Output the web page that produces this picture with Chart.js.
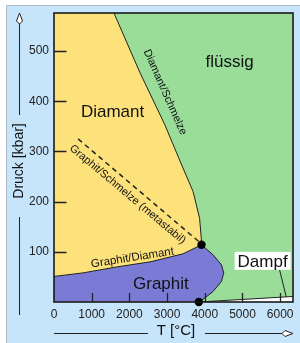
<!DOCTYPE html>
<html>
<head>
<meta charset="utf-8">
<script src="https://cdn.jsdelivr.net/npm/chart.js@4.4.1/dist/chart.umd.min.js"></script>
<style>
  html, body { margin: 0; padding: 0; background: #fff; }
  #wrap { width: 300px; height: 343px; position: relative; }
</style>
</head>
<body>
<div id="wrap"><canvas id="phase"></canvas></div>
<script>
// Phasendiagramm Kohlenstoff: T in °C, Druck in kbar
const tRange = [0, 6340];
const pRange = [0, 576];
const xTickValues = [0, 1000, 2000, 3000, 4000, 5000, 6000];
const yTickValues = [100, 200, 300, 400, 500];

// Phasengrenzen
const graphitDiamant = [
  {x: 0, y: 51}, {x: 770, y: 58}, {x: 1670, y: 70}, {x: 2550, y: 80},
  {x: 3420, y: 96}, {x: 3913, y: 114}
];
const diamantSchmelze = [
  {x: 3913, y: 114}, {x: 3907, y: 127}, {x: 3862, y: 167}, {x: 3690, y: 220},
  {x: 3365, y: 277}, {x: 2942, y: 353}, {x: 2275, y: 458}, {x: 1590, y: 576}
];
const graphitSchmelze = [
  {x: 3913, y: 114}, {x: 4220, y: 94}, {x: 4442, y: 74}, {x: 4503, y: 58},
  {x: 4442, y: 41}, {x: 4220, y: 21}, {x: 4000, y: 8}, {x: 3841, y: 0}
];
const schmelzeDampf = [{x: 3841, y: 0}, {x: 6340, y: 11}];
const metastabil = [{x: 640, y: 325}, {x: 3880, y: 118}];
const dampfPfeil = [{x: 5984, y: 64}, {x: 6161, y: 10}];
const tripelpunkte = [{x: 3913, y: 114}, {x: 3841, y: 0}];

// Flächen aus den Grenzen zusammengesetzt
const flaecheFluessig = [{x: 0, y: 0}, {x: 0, y: 576}, {x: 6340, y: 576}, {x: 6340, y: 0}];
const flaecheDiamant = graphitDiamant.concat(diamantSchmelze.slice(1), [{x: 0, y: 576}]);
const flaecheGraphit = [{x: 0, y: 0}].concat(graphitDiamant, graphitSchmelze.slice(1));
const flaecheDampf = schmelzeDampf.concat([{x: 6340, y: 0}]);

function region(pts, color, order) {
  return { data: pts, fill: 'shape', backgroundColor: color, borderColor: 'transparent',
           borderWidth: 0, pointRadius: 0, order: order };
}
function boundary(pts, dash) {
  return { data: pts, fill: false, borderColor: '#222', borderWidth: dash ? 1.5 : 1,
           borderDash: dash || [], pointRadius: 0, order: 2 };
}

const phasePlugin = {
  id: 'phase',
  beforeDraw(chart) {
    const ctx = chart.ctx;
    ctx.save();
    ctx.fillStyle = '#fff';
    ctx.fillRect(0, 0, chart.width, chart.height);
    ctx.fillStyle = '#c7e5fa';
    ctx.fillRect(7, 6, chart.width - 7, chart.height - 6);
    ctx.strokeStyle = '#b0bcc6';
    ctx.lineWidth = 1;
    ctx.beginPath();
    ctx.moveTo(6.5, chart.height); ctx.lineTo(6.5, 5.5); ctx.lineTo(chart.width, 5.5);
    ctx.stroke();
    ctx.restore();
  },
  afterDatasetsDraw(chart, args, opts) {
    const ctx = chart.ctx, a = chart.chartArea;
    const xs = chart.scales.x, ys = chart.scales.y;
    ctx.save();
    // Ticks nach innen
    ctx.strokeStyle = '#222';
    ctx.lineWidth = 1.3;
    ctx.beginPath();
    yTickValues.forEach(v => {
      const y = Math.round(ys.getPixelForValue(v)) + 0.5;
      ctx.moveTo(a.left, y); ctx.lineTo(a.left + 12.5, y);
    });
    xTickValues.forEach(v => {
      if (v === 0) return;
      const x = Math.round(xs.getPixelForValue(v)) + 0.5;
      ctx.moveTo(x, a.bottom); ctx.lineTo(x, a.bottom - 9);
    });
    ctx.stroke();
    // Rahmen
    ctx.lineWidth = 1.6;
    ctx.strokeStyle = '#1a1a1a';
    ctx.strokeRect(a.left, a.top, a.right - a.left, a.bottom - a.top);
    // Beschriftungen
    opts.labels.forEach(l => {
      const x = xs.getPixelForValue(l.t), y = ys.getPixelForValue(l.p);
      ctx.save();
      ctx.translate(x, y);
      ctx.rotate((l.angle || 0) * Math.PI / 180);
      ctx.font = l.size + 'px "Liberation Sans", Arial, sans-serif';
      if (l.box) {
        ctx.fillStyle = '#fff';
        ctx.fillRect(-l.box[0] / 2, -l.box[1] / 2, l.box[0], l.box[1]);
      }
      ctx.fillStyle = '#111';
      ctx.textAlign = 'center';
      ctx.textBaseline = 'middle';
      ctx.fillText(l.text, 0, 1);
      ctx.restore();
    });
    ctx.restore();
  },
  afterDraw(chart) {
    const ctx = chart.ctx, a = chart.chartArea;
    ctx.save();
    ctx.strokeStyle = '#222';
    ctx.fillStyle = '#111';
    ctx.lineWidth = 1;
    // y-Achsentitel mit Pfeil
    const ax = 19.5;
    ctx.beginPath();
    ctx.moveTo(ax, 22); ctx.lineTo(ax, 115);
    ctx.moveTo(ax, 217); ctx.lineTo(ax, 315);
    ctx.stroke();
    ctx.beginPath();
    ctx.moveTo(ax, 13); ctx.lineTo(ax + 3, 21); ctx.lineTo(ax, 24); ctx.lineTo(ax - 3, 21); ctx.closePath();
    ctx.fillStyle = '#fff'; ctx.fill(); ctx.stroke();
    ctx.fillStyle = '#111';
    ctx.font = '14px "Liberation Sans", Arial, sans-serif';
    ctx.textAlign = 'center';
    ctx.textBaseline = 'middle';
    ctx.save();
    ctx.translate(ax, 161);
    ctx.rotate(-Math.PI / 2);
    ctx.fillText('Druck [kbar]', 0, 0);
    ctx.restore();
    // x-Achsentitel mit Pfeil
    const ay = 333.5;
    ctx.beginPath();
    ctx.moveTo(a.left, ay); ctx.lineTo(148, ay);
    ctx.moveTo(205, ay); ctx.lineTo(283, ay);
    ctx.stroke();
    ctx.beginPath();
    ctx.moveTo(a.right, ay); ctx.lineTo(a.right - 8, ay - 3); ctx.lineTo(a.right - 11, ay);
    ctx.lineTo(a.right - 8, ay + 3); ctx.closePath();
    ctx.fillStyle = '#fff'; ctx.fill(); ctx.stroke();
    ctx.fillStyle = '#111';
    ctx.font = '15px "Liberation Sans", Arial, sans-serif';
    ctx.fillText('T [°C]', 176, 331);
    ctx.restore();
  }
};

Chart.defaults.font.family = '"Liberation Sans", Arial, sans-serif';

new Chart(document.getElementById('phase'), {
  type: 'line',
  data: {
    datasets: [
      { data: tripelpunkte, showLine: false, pointRadius: 4.2, pointBackgroundColor: '#000',
        pointBorderColor: '#000', borderWidth: 0, clip: false, order: 0 },
      boundary(dampfPfeil),
      boundary(graphitDiamant),
      boundary(diamantSchmelze),
      boundary(graphitSchmelze),
      boundary(schmelzeDampf),
      boundary(metastabil, [5, 4]),
      region(flaecheDampf, '#ffffff', 3),
      region(flaecheGraphit, '#7b7bd6', 4),
      region(flaecheDiamant, '#fde27b', 5),
      region(flaecheFluessig, '#99dd99', 6)
    ]
  },
  options: {
    responsive: true,
    maintainAspectRatio: false,
    animation: false,
    events: [],
    layout: { padding: { top: 13, right: 7, left: 0, bottom: 0 } },
    plugins: {
      legend: { display: false },
      tooltip: { enabled: false },
      phase: {
        labels: [
          { text: 'flüssig', t: 4661, p: 480, size: 17 },
          { text: 'Diamant', t: 1553, p: 381, size: 17 },
          { text: 'Graphit', t: 2836, p: 38, size: 17 },
          { text: 'Dampf', t: 5534, p: 82, size: 17, box: [56, 18] },
          { text: 'Diamant/Schmelze', t: 2968, p: 419, size: 11, angle: 66 },
          { text: 'Graphit/Diamant', t: 2077, p: 90, size: 11.5, angle: -9 },
          { text: 'Graphit/Schmelze (metastabil)', t: 1970, p: 216, size: 11, angle: 40 }
        ]
      }
    },
    scales: {
      x: {
        type: 'linear',
        min: tRange[0], max: tRange[1],
        grid: { display: false, drawTicks: false },
        border: { display: false },
        afterFit: s => { s.height = 41; },
        afterBuildTicks: s => { s.ticks = xTickValues.map(v => ({ value: v })); },
        ticks: { padding: 5, maxRotation: 0, color: '#222', font: { size: 12 },
                 callback: v => String(v) }
      },
      y: {
        type: 'linear',
        min: pRange[0], max: pRange[1],
        grid: { display: false, drawTicks: false },
        border: { display: false },
        afterFit: s => { s.width = 54; },
        afterBuildTicks: s => { s.ticks = yTickValues.map(v => ({ value: v })); },
        ticks: { padding: 5, color: '#222', font: { size: 12 },
                 callback: v => String(v) }
      }
    }
  },
  plugins: [phasePlugin]
});
</script>
</body>
</html>
